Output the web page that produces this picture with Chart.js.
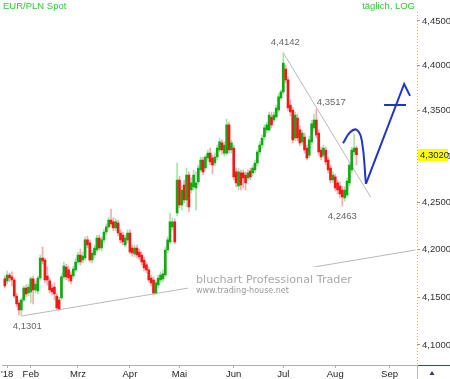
<!DOCTYPE html>
<html>
<head>
<meta charset="utf-8">
<script src="https://cdn.jsdelivr.net/npm/chart.js@4.4.0/dist/chart.umd.min.js"></script>
<style>
  html, body { margin: 0; padding: 0; background: #fff; }
  #wrap { width: 450px; height: 379px; position: relative; }
</style>
</head>
<body>
<div id="wrap"><canvas id="chart"></canvas></div>
<script>
// first bar = 2018-01-17, one slot per weekday
const startDate = '2018-01-17';
const monthStarts = ['2018-01-18','2018-02-01','2018-03-01','2018-04-02','2018-05-01','2018-06-01','2018-07-02','2018-08-01','2018-09-03'];
const monthLabels = ["'18",'Feb','Mrz','Apr','Mai','Jun','Jul','Aug','Sep'];
const yTicks = [4.10, 4.15, 4.20, 4.25, 4.30, 4.35, 4.40, 4.45];

const opens = [
  4.1690,4.1669,4.1732,4.1711,4.1679,4.1511,4.1437,4.1365,4.1469,4.1595,
  4.1542,4.1553,4.1690,4.1574,4.1563,4.1700,4.1911,4.1890,4.1721,4.1669,
  4.1595,4.1605,4.1511,4.1469,4.1490,4.1711,4.1816,4.1785,4.1732,4.1721,
  4.1785,4.1869,4.1943,4.1890,4.1911,4.2103,4.2071,4.1890,4.1943,4.1996,
  4.2124,4.2017,4.2103,4.2188,4.2242,4.2316,4.2295,4.2231,4.2284,4.2177,
  4.2156,4.2049,4.2103,4.2177,4.2017,4.1954,4.2017,4.1975,4.1943,4.1890,
  4.1838,4.1785,4.1700,4.1679,4.1542,4.1627,4.1679,4.1690,4.1732,4.1996,
  4.2081,4.2242,4.2295,4.2391,4.2746,4.2477,4.2692,4.2530,4.2800,4.2638,
  4.2671,4.2660,4.2725,4.2854,4.2962,4.2876,4.2984,4.3038,4.2984,4.2930,
  4.2995,4.3071,4.3148,4.3038,4.3038,4.3345,4.3071,4.3093,4.2833,4.2681,
  4.2822,4.2822,4.2800,4.2768,4.2843,4.2822,4.2854,4.2930,4.3049,4.3126,
  4.3213,4.3290,4.3290,4.3432,4.3399,4.3432,4.3509,4.3642,4.3708,4.3962,
  4.3841,4.3564,4.3509,4.3202,4.3421,4.3290,4.3159,4.3213,4.3093,4.3016,
  4.3159,4.3312,4.3399,4.3257,4.3071,4.3016,4.3071,4.2962,4.2876,4.2746,
  4.2779,4.2714,4.2681,4.2638,4.2552,4.2584,4.2714,4.2854,4.3049,4.3093
];
const highs = [
  4.1721,4.1774,4.1753,4.1764,4.1700,4.1542,4.1469,4.1490,4.1616,4.1627,
  4.1637,4.1711,4.1721,4.1669,4.1721,4.1943,4.2028,4.1911,4.1816,4.1700,
  4.1627,4.1648,4.1542,4.1500,4.1743,4.1869,4.1848,4.1827,4.1764,4.1827,
  4.1911,4.1975,4.2007,4.1975,4.2135,4.2145,4.2103,4.1996,4.2049,4.2156,
  4.2156,4.2135,4.2220,4.2274,4.2348,4.2434,4.2338,4.2327,4.2316,4.2210,
  4.2188,4.2156,4.2210,4.2210,4.2049,4.2049,4.2049,4.2007,4.1975,4.1922,
  4.1869,4.1816,4.1732,4.1711,4.1679,4.1732,4.1764,4.1785,4.2028,4.2135,
  4.2391,4.2338,4.2327,4.2930,4.2789,4.2681,4.2746,4.2876,4.2833,4.2768,
  4.2854,4.2833,4.2908,4.2995,4.2995,4.3016,4.3071,4.3093,4.3016,4.3038,
  4.3126,4.3202,4.3181,4.3159,4.3410,4.3377,4.3181,4.3126,4.2876,4.2876,
  4.2854,4.2854,4.2833,4.2854,4.2876,4.2908,4.2962,4.3071,4.3159,4.3235,
  4.3345,4.3377,4.3487,4.3487,4.3487,4.3564,4.3686,4.3730,4.4142,4.4007,
  4.3874,4.3620,4.3542,4.3487,4.3465,4.3334,4.3290,4.3257,4.3126,4.3224,
  4.3399,4.3465,4.3517,4.3290,4.3104,4.3126,4.3104,4.2995,4.2908,4.2833,
  4.2811,4.2746,4.2725,4.2681,4.2671,4.2768,4.2941,4.3104,4.3246,4.3115
];
const lows = [
  4.1595,4.1637,4.1658,4.1616,4.1490,4.1396,4.1312,4.1301,4.1448,4.1500,
  4.1511,4.1437,4.1427,4.1542,4.1532,4.1679,4.1848,4.1648,4.1627,4.1542,
  4.1521,4.1469,4.1365,4.1365,4.1469,4.1690,4.1679,4.1658,4.1637,4.1690,
  4.1764,4.1838,4.1838,4.1859,4.1890,4.2017,4.1869,4.1859,4.1911,4.1975,
  4.1996,4.1985,4.2071,4.2156,4.2220,4.2242,4.2199,4.2199,4.2145,4.2071,
  4.2049,4.2028,4.2071,4.1954,4.1932,4.1922,4.1911,4.1890,4.1838,4.1774,
  4.1753,4.1658,4.1616,4.1521,4.1526,4.1595,4.1648,4.1658,4.1711,4.1964,
  4.2060,4.2210,4.2060,4.2359,4.2444,4.2423,4.2498,4.2455,4.2402,4.2606,
  4.2638,4.2423,4.2692,4.2833,4.2800,4.2843,4.2951,4.2908,4.2811,4.2897,
  4.2962,4.3049,4.3027,4.3005,4.3016,4.3038,4.3038,4.2746,4.2671,4.2638,
  4.2638,4.2660,4.2638,4.2735,4.2746,4.2789,4.2822,4.2897,4.3016,4.3093,
  4.3181,4.3257,4.3279,4.3312,4.3377,4.3421,4.3487,4.3620,4.3686,4.3808,
  4.3498,4.3443,4.3148,4.3170,4.3170,4.3115,4.3126,4.3038,4.2962,4.2984,
  4.3126,4.3279,4.3202,4.3016,4.2962,4.2984,4.2908,4.2822,4.2714,4.2714,
  4.2627,4.2595,4.2552,4.2463,4.2519,4.2563,4.2681,4.2822,4.3016,4.2908
];
const closes = [
  4.1616,4.1732,4.1700,4.1679,4.1511,4.1427,4.1365,4.1469,4.1595,4.1532,
  4.1605,4.1690,4.1574,4.1637,4.1700,4.1911,4.1880,4.1679,4.1679,4.1574,
  4.1553,4.1532,4.1385,4.1375,4.1711,4.1827,4.1711,4.1700,4.1669,4.1795,
  4.1869,4.1943,4.1869,4.1932,4.2103,4.2049,4.1890,4.1964,4.2017,4.2124,
  4.2017,4.2103,4.2188,4.2242,4.2316,4.2274,4.2231,4.2295,4.2177,4.2103,
  4.2081,4.2124,4.2177,4.1975,4.1964,4.2017,4.1943,4.1922,4.1869,4.1806,
  4.1785,4.1679,4.1648,4.1542,4.1648,4.1700,4.1732,4.1743,4.1996,4.2103,
  4.2295,4.2295,4.2081,4.2746,4.2477,4.2638,4.2530,4.2800,4.2455,4.2714,
  4.2800,4.2714,4.2876,4.2962,4.2833,4.2995,4.3038,4.2941,4.2908,4.2995,
  4.3093,4.3159,4.3071,4.3126,4.3345,4.3071,4.3148,4.2779,4.2714,4.2833,
  4.2692,4.2768,4.2714,4.2822,4.2779,4.2876,4.2930,4.3049,4.3126,4.3202,
  4.3312,4.3345,4.3454,4.3345,4.3454,4.3531,4.3653,4.3708,4.4029,4.3841,
  4.3531,4.3487,4.3181,4.3454,4.3202,4.3148,4.3257,4.3071,4.2984,4.3181,
  4.3356,4.3399,4.3235,4.3049,4.2995,4.3093,4.2941,4.2854,4.2746,4.2800,
  4.2660,4.2638,4.2595,4.2563,4.2638,4.2735,4.2908,4.3071,4.3093,4.3020
];

// marked extremes: [bar, 'high' | 'low']
const markedPoints = [[7, 'low'], [118, 'high'], [132, 'high'], [143, 'low']];

// trend lines and forecast sketch, as [bar, price]
const supportLine = [[7, 4.1301], [174, 4.1996]];
const resistLine = [[118, 4.4142], [155, 4.2562]];
const forecastCurve = [[143.3, 4.3144], [146.3, 4.3265], [149.2, 4.3290], [151.3, 4.3170], [153, 4.2703]];
const forecastLeg = [[153, 4.2703], [169.2, 4.3796], [171.7, 4.3664]];
const forecastBar = [[160.7, 4.3564], [170.0, 4.3564]];

function weekdayIndex(d){
  const a = new Date(startDate + 'T00:00:00Z');
  const b = new Date(d + 'T00:00:00Z');
  let n = 0;
  while (a < b){
    const w = a.getUTCDay();
    if (w !== 0 && w !== 6) n++;
    a.setUTCDate(a.getUTCDate() + 1);
  }
  return n;
}
const monthIdx = monthStarts.map(weekdayIndex);

const fmt = v => v.toFixed(4).replace('.', ',');
const pts = arr => arr.map(p => ({x: p[0], y: p[1]}));

const GREEN = '#14a814', RED = '#f01818';
const WICK_G = '#a9e3a9', WICK_R = '#f6aaaa';
const up = opens.map((o, i) => closes[i] >= o);

const bodies = opens.map((o, i) => ({x: i, y: [o, closes[i]]}));
const wicks = opens.map((o, i) => ({x: i, y: [lows[i], highs[i]]}));

const FONT = '"Liberation Sans", Arial, sans-serif';

const decor = {
  id: 'decor',
  afterDatasetsDraw(chart){
    const {ctx, scales: {x, y}} = chart;
    ctx.save();
    // watermark with white backing (breaks the support line)
    ctx.fillStyle = '#fff';
    ctx.fillRect(188, 267, 172, 31);
    ctx.fillStyle = '#a9a9a9';
    ctx.font = '11.2px "DejaVu Sans", Verdana, sans-serif';
    ctx.textBaseline = 'alphabetic';
    ctx.textAlign = 'left';
    ctx.fillText('bluchart Professional Trader', 196, 283);
    ctx.fillStyle = '#9a9a9a';
    ctx.font = '8px "DejaVu Sans", Verdana, sans-serif';
    ctx.fillText('www.trading-house.net', 196, 293);

    // extreme value labels
    ctx.fillStyle = '#666';
    ctx.font = '9.5px ' + FONT;
    ctx.textAlign = 'center';
    ctx.textBaseline = 'middle';
    markedPoints.forEach(([i, kind]) => {
      const v = kind === 'high' ? highs[i] : lows[i];
      let px = x.getPixelForValue(i), py = y.getPixelForValue(v);
      if (kind === 'high') py -= (i === 132 ? 7 : 10); else py += 10;
      if (i === 132) px += 15;
      if (i === 7) px += 6;
      if (i === 118) px += 2;
      ctx.fillText(fmt(v), px, py);
    });
    ctx.restore();
  },
  afterDraw(chart){
    const {ctx, chartArea, scales: {y}} = chart;
    ctx.save();
    // dotted right axis line
    ctx.strokeStyle = '#d9b470';
    ctx.lineWidth = 1;
    ctx.setLineDash([1, 2]);
    ctx.beginPath();
    ctx.moveTo(chartArea.right + 0.5, chartArea.top);
    ctx.lineTo(chartArea.right + 0.5, chartArea.bottom);
    ctx.stroke();
    ctx.setLineDash([]);

    ctx.font = '9.5px ' + FONT;
    ctx.fillStyle = '#2ecb2e';
    ctx.textBaseline = 'alphabetic';
    ctx.textAlign = 'left';
    ctx.fillText('EUR/PLN Spot', 3, 9);
    ctx.textAlign = 'right';
    ctx.fillText('täglich, LOG', 415, 9);

    // last price box
    const last = closes[closes.length - 1];
    const ly = Math.round(y.getPixelForValue(last));
    ctx.fillStyle = '#ffff00';
    ctx.fillRect(chartArea.right + 1, ly - 6, 30, 12);
    ctx.fillStyle = '#222';
    ctx.textAlign = 'left';
    ctx.textBaseline = 'middle';
    ctx.fillText(fmt(last), chartArea.right + 3, ly + 0.5);

    // bottom right corner cell
    ctx.strokeStyle = '#3b4a7c';
    ctx.beginPath();
    ctx.moveTo(chartArea.right, chartArea.bottom + 0.5);
    ctx.lineTo(450, chartArea.bottom + 0.5);
    ctx.stroke();
    ctx.strokeStyle = '#b8b8b8';
    ctx.beginPath();
    ctx.moveTo(chartArea.right + 0.5, chartArea.bottom);
    ctx.lineTo(chartArea.right + 0.5, 379);
    ctx.stroke();
    ctx.fillStyle = '#2a3a8a';
    ctx.beginPath();
    ctx.moveTo(432, 371);
    ctx.lineTo(434.5, 375);
    ctx.lineTo(429.5, 375);
    ctx.closePath();
    ctx.fill();
    ctx.restore();
  }
};

new Chart(document.getElementById('chart'), {
  type: 'bar',
  data: {
    datasets: [
      {
        type: 'line', data: pts(forecastCurve), borderColor: '#2233c8', borderWidth: 2,
        pointRadius: 0, tension: 0.45, order: 0
      },
      {
        type: 'line', data: pts(forecastLeg), borderColor: '#2233c8', borderWidth: 2,
        pointRadius: 0, tension: 0, order: 0
      },
      {
        type: 'line', data: pts(forecastBar), borderColor: '#2233c8', borderWidth: 2,
        pointRadius: 0, tension: 0, order: 0
      },
      {
        data: bodies, backgroundColor: up.map(u => u ? GREEN : RED),
        barThickness: 2, minBarLength: 1, grouped: false, order: 1
      },
      {
        data: wicks, backgroundColor: up.map(u => u ? WICK_G : WICK_R),
        barThickness: 1, grouped: false, order: 2
      },
      {
        type: 'line', data: pts(supportLine), borderColor: '#b9b9b9', borderWidth: 1,
        pointRadius: 0, order: 3
      },
      {
        type: 'line', data: pts(resistLine), borderColor: '#b9b9b9', borderWidth: 1,
        pointRadius: 0, order: 3
      }
    ]
  },
  options: {
    responsive: true,
    maintainAspectRatio: false,
    animation: false,
    layout: { padding: { top: 12, left: 0, right: 0, bottom: 0 } },
    plugins: { legend: { display: false }, tooltip: { enabled: false } },
    scales: {
      x: {
        type: 'linear',
        min: -1.053,
        max: 174.65,
        offset: false,
        afterBuildTicks: s => { s.ticks = monthIdx.map(v => ({value: v})); },
        afterFit: s => { s.height = 14; },
        ticks: {
          autoSkip: false, maxRotation: 0, padding: 1,
          color: '#222', font: { family: FONT, size: 9.5 },
          callback: v => monthLabels[monthIdx.indexOf(v)]
        },
        grid: { offset: false, drawOnChartArea: false, tickLength: 3, color: '#b0b0b0' },
        border: { color: '#b0b0b0' }
      },
      y: {
        type: 'logarithmic',
        position: 'right',
        min: 4.0793,
        max: 4.4600,
        afterBuildTicks: s => { s.ticks = yTicks.map(v => ({value: v})); },
        afterFit: s => { s.width = 33; },
        ticks: {
          autoSkip: false, padding: 2,
          color: '#333', font: { family: FONT, size: 9.5 },
          callback: v => fmt(v)
        },
        grid: { drawOnChartArea: false, tickLength: 3, color: '#999' },
        border: { display: false }
      }
    }
  },
  plugins: [decor]
});
</script>
</body>
</html>
